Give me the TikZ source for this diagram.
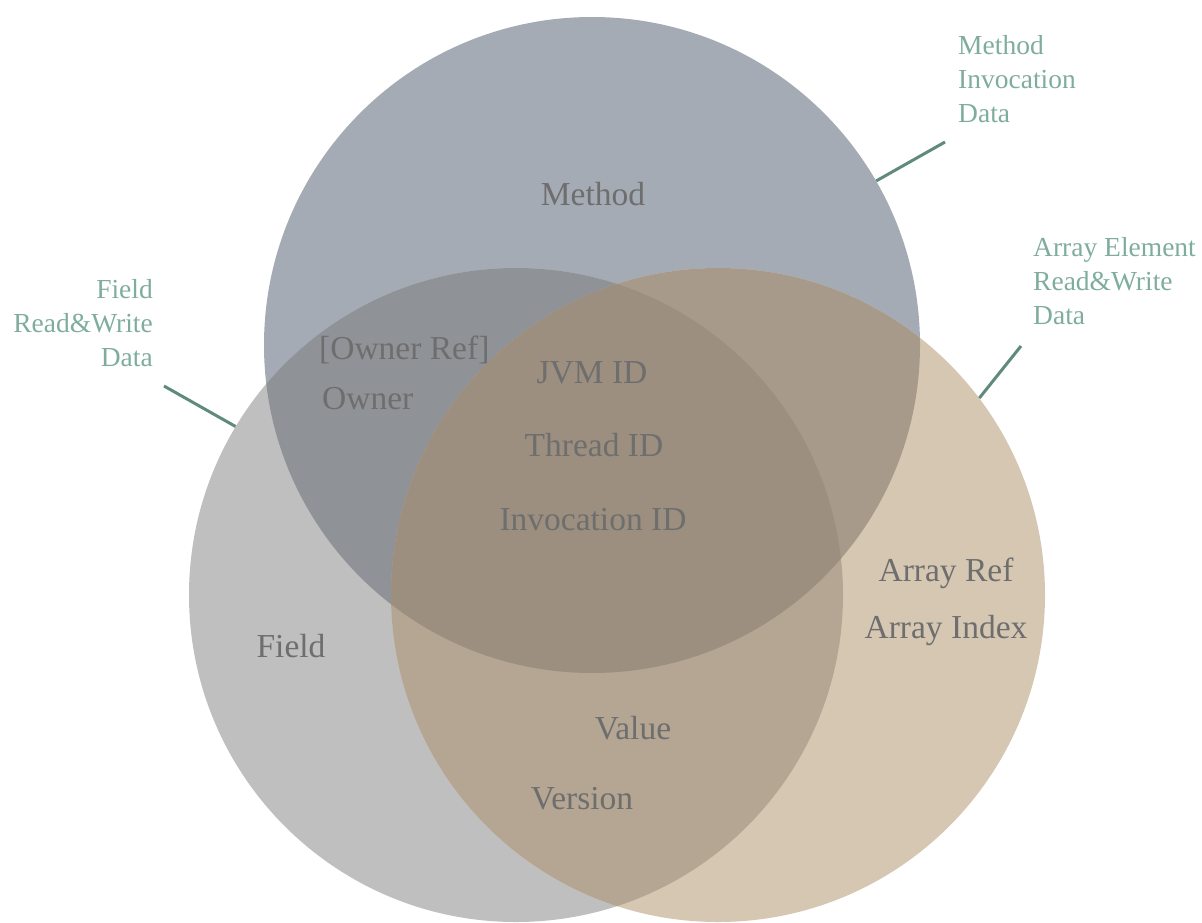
\documentclass[tikz,border=0pt]{standalone}
\usepackage{fontspec}
\setmainfont{Liberation Serif}
\begin{document}
\definecolor{cMethod}{HTML}{A4ABB4}
\definecolor{cField}{HTML}{BFBFBF}
\definecolor{cArray}{HTML}{D6C7B3}
\definecolor{cMF}{HTML}{8F9296}
\definecolor{cMA}{HTML}{A89A8A}
\definecolor{cFA}{HTML}{B4A693}
\definecolor{cMFA}{HTML}{9C8F7F}
\definecolor{setText}{HTML}{6E6E6E}
\definecolor{tagText}{HTML}{7FAD9D}
\definecolor{tagLine}{HTML}{5F8A7C}
\begin{tikzpicture}[x=1pt,y=-1pt,
  setlabel/.style={text=setText,inner sep=0pt,anchor=base,
    font=\fontsize{33.5}{40}\selectfont},
  taglabel/.style={text=tagText,inner sep=0pt,anchor=base,
    font=\fontsize{27.5}{34}\selectfont},
  tagline/.style={draw=tagLine,line width=3pt},
  setcircle/.style={circle,inner sep=0pt,minimum size=#1pt}]
\useasboundingbox (0,0) rectangle (1202,922);
% the three sets
\node[setcircle=656,fill=cMethod] (method) at (592,345) {};
\node[setcircle=654,fill=cField] (field) at (516,595) {};
\node[setcircle=654,fill=cArray] (array) at (718,595) {};
% pairwise overlaps
\begin{scope}
  \clip (592,345) circle (328);
  \fill[cMF] (516,595) circle (327);
  \fill[cMA] (718,595) circle (327);
\end{scope}
\begin{scope}
  \clip (516,595) circle (327);
  \fill[cFA] (718,595) circle (327);
  \clip (718,595) circle (327);
  \fill[cMFA] (592,345) circle (328);
\end{scope}
% set contents
\node[setlabel] (tMethod) at (593,205) {Method};
\node[setlabel,anchor=base west] (tOwnerRef) at (319,359) {[Owner Ref]};
\node[setlabel,anchor=base west] (tOwner) at (322,409) {Owner};
\node[setlabel] (tJvm) at (592,383) {JVM ID};
\node[setlabel] (tThread) at (594,456) {Thread ID};
\node[setlabel] (tInvoc) at (593,530) {Invocation ID};
\node[setlabel] (tField) at (291,657) {Field};
\node[setlabel] (tValue) at (633,739) {Value};
\node[setlabel] (tVersion) at (582,809) {Version};
\node[setlabel] (tArrRef) at (946,581) {Array Ref};
\node[setlabel] (tArrIdx) at (946,638) {Array Index};
% data kinds with pointers (anchored at the baseline of the last line)
\node[taglabel,anchor=base west,align=left] (kMethod) at (958,122)
  {Method\\Invocation\\Data};
\node[taglabel,anchor=base east,align=right] (kField) at (153,366)
  {Field\\Read\&Write\\Data};
\node[taglabel,anchor=base west,align=left] (kArray) at (1033,324)
  {Array Element\\Read\&Write\\Data};
\coordinate (pMethod) at (945,142);
\coordinate (pField) at (164,386);
\coordinate (pArray) at (1021,346);
\draw[tagline] (pMethod) -- (method.30.3);
\draw[tagline] (pField) -- (field.149);
\draw[tagline] (pArray) -- (array.37.8);
\end{tikzpicture}
\end{document}
